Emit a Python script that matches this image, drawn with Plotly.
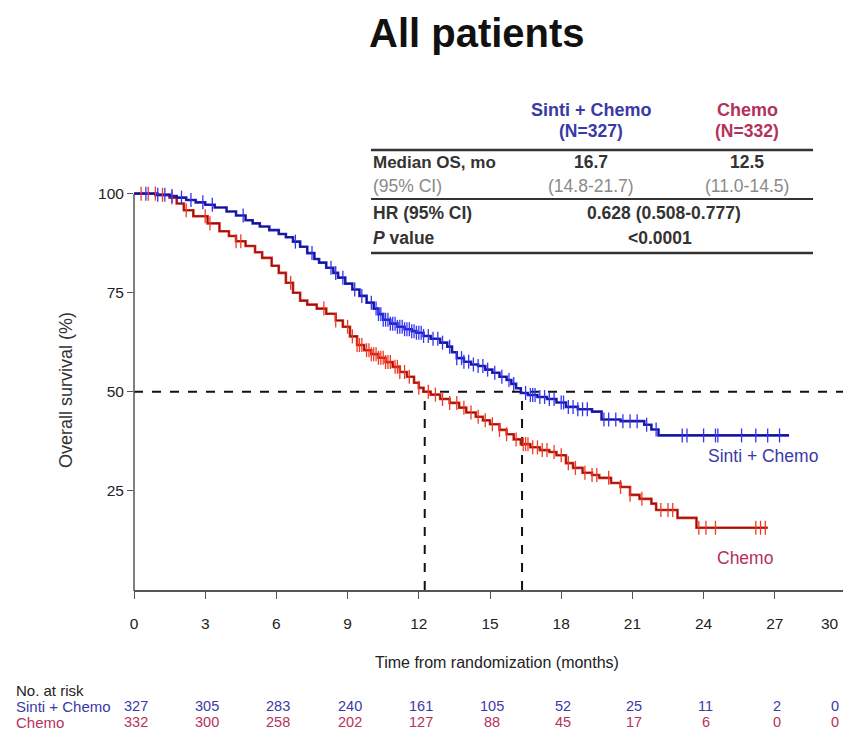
import numpy as np
import plotly.graph_objects as go

# ---------------- data ----------------
sinti_t = [0, 0.9, 1.5, 1.8, 2.2, 2.6, 3.0, 3.4, 3.9, 4.3, 4.7, 5.0, 5.3, 5.7, 6.1, 6.4, 6.7, 7.0,
           7.3, 7.6, 7.8, 8.1, 8.4, 8.6, 8.9, 9.2, 9.5, 9.8, 10.1, 10.3, 10.5, 10.8, 11.1, 11.4,
           11.7, 11.9, 12.2, 12.5, 12.9, 13.2, 13.4, 13.6, 13.9, 14.2, 14.5, 14.8, 15.1, 15.4,
           15.7, 15.9, 16.1, 16.3, 16.6, 17.0, 17.4, 17.8, 18.2, 18.7, 19.3, 19.7, 20.5, 21.5,
           21.8, 22.1, 27.6]
sinti_s = [100, 99.7, 99.4, 99.0, 98.4, 97.8, 97.2, 96.5, 95.5, 94.5, 93.3, 92.5, 91.7, 90.8, 89.8,
           89.0, 87.9, 86.6, 85.0, 83.5, 82.6, 81.3, 80.0, 78.8, 77.3, 75.8, 74.2, 72.5, 71.0, 69.6,
           68.2, 67.2, 66.4, 65.8, 65.3, 64.9, 64.1, 63.4, 62.4, 61.4, 60.0, 58.5, 57.6, 56.9, 56.5,
           55.6, 54.8, 53.8, 53.0, 52.0, 50.9, 49.7, 49.2, 48.7, 48.2, 47.3, 46.2, 45.6, 45.0, 43.0,
           42.6, 41.7, 40.5, 39.0, 39.0]
sinti_cens = [0.5, 1.0, 1.3, 1.6, 2.0, 2.4, 2.9, 3.3, 4.6, 6.8, 7.5, 8.3, 8.5, 8.8, 9.3, 9.6, 10.0,
              10.2, 10.3, 10.4, 10.5, 10.6, 10.7, 10.8, 10.9, 11.0, 11.1, 11.2, 11.3, 11.4, 11.5,
              11.6, 11.7, 11.8, 11.9, 12.0, 12.1, 12.2, 12.4, 12.6, 12.8, 13.0, 13.3, 13.6, 13.8,
              13.9, 14.1, 14.3, 14.5, 14.7, 14.9, 15.2, 15.5, 15.8, 16.0, 16.5, 16.7, 16.8, 16.9,
              17.1, 17.3, 17.5, 17.7, 18.0, 18.1, 18.3, 18.5, 18.7, 18.9, 19.1, 19.8, 20.0, 20.3,
              20.6, 20.9, 21.2, 21.6, 22.0, 23.1, 23.3, 24.0, 24.5, 24.6, 25.6, 26.2, 26.7, 27.2]

chemo_t = [0, 1.0, 1.5, 1.8, 2.1, 2.5, 3.1, 3.6, 4.0, 4.3, 4.7, 5.1, 5.4, 5.8, 6.1, 6.4, 6.7, 7.0,
           7.3, 7.7, 8.1, 8.5, 8.8, 9.1, 9.4, 9.7, 10.0, 10.3, 10.6, 10.9, 11.2, 11.5, 11.8, 12.0,
           12.2, 12.5, 12.9, 13.3, 13.7, 14.0, 14.4, 14.7, 15.0, 15.4, 15.7, 16.0, 16.3, 16.7, 17.1,
           17.5, 17.8, 18.2, 18.5, 18.9, 19.3, 19.6, 20.1, 20.5, 20.9, 21.3, 21.8, 22.0, 22.9, 23.7,
           26.7]
chemo_s = [100, 99.7, 99.0, 97.5, 95.8, 94.3, 92.5, 90.5, 89.3, 88.0, 86.8, 85.2, 83.8, 81.8, 80.0,
           77.5, 75.0, 73.0, 72.0, 71.0, 69.7, 68.0, 66.4, 64.0, 61.8, 60.5, 59.5, 58.6, 57.5, 56.3,
           55.0, 53.8, 52.3, 51.0, 50.0, 49.3, 48.2, 47.2, 46.0, 44.8, 43.7, 42.8, 41.8, 40.4, 39.3,
           38.0, 36.8, 36.0, 35.3, 34.8, 34.0, 32.0, 30.8, 29.6, 29.0, 28.3, 27.0, 26.0, 24.0, 23.0,
           21.8, 20.2, 18.2, 15.7, 15.7]
chemo_cens = [0.3, 0.6, 0.9, 1.2, 1.6, 2.2, 3.0, 3.2, 4.3, 4.5, 6.6, 8.0, 8.5, 9.0, 9.2, 9.4, 9.5,
              9.6, 9.8, 9.9, 10.0, 10.1, 10.2, 10.3, 10.4, 10.5, 10.6, 10.7, 10.8, 11.0, 11.1, 11.2,
              11.4, 11.6, 12.0, 12.4, 12.7, 13.0, 13.3, 13.6, 13.9, 14.2, 14.5, 14.8, 15.1, 15.4,
              15.7, 16.1, 16.4, 16.5, 16.6, 16.8, 17.0, 17.2, 17.4, 17.7, 18.0, 18.3, 18.6, 19.0,
              19.3, 19.5, 20.0, 20.5, 20.9, 21.4, 22.2, 22.5, 22.7, 23.8, 24.1, 24.5, 26.2, 26.4,
              26.6]

median_sinti_drawn = 16.35
median_chemo_drawn = 12.25

risk_times = [0, 3, 6, 9, 12, 15, 18, 21, 24, 27, 30]
risk_sinti = [327, 305, 283, 240, 161, 105, 52, 25, 11, 2, 0]
risk_chemo = [332, 300, 258, 202, 127, 88, 45, 17, 6, 0, 0]

x_ticks = [0, 3, 6, 9, 12, 15, 18, 21, 24, 27, 30]
y_ticks = [25, 50, 75, 100]

# ---------------- styling ----------------
OFF = 8                      # page body margin in the browser
W, H = 851 - OFF, 754 - OFF
L, R, T, B = 126, 5, 146, 164
PW, PH = W - L - R, H - T - B
ARIAL = "Liberation Sans, Arial, sans-serif"
BLUE_LINE = "#2424d4"
BLUE_CORE = "#141468"
BLUE_MARK = "#3434f4"
RED_LINE = "#e0281c"
RED_CORE = "#7a1410"
RED_MARK = "#f23a22"
BLUE_TXT = "#3a3aa6"
RED_TXT = "#b4325a"
EDGE = 841                   # right-most visible screen pixel used for edge texts


def pxx(x):
    """screen x pixel -> paper coordinate"""
    return (x - OFF - L) / PW


def pxy(y):
    """screen y pixel -> paper coordinate"""
    return (H - B - (y - OFF)) / PH


def step_value(times, surv, t):
    idx = np.searchsorted(np.asarray(times), t, side="right") - 1
    return np.asarray(surv)[idx]


fig = go.Figure()

for t, s, c_line, c_core in [(chemo_t, chemo_s, RED_LINE, RED_CORE),
                             (sinti_t, sinti_s, BLUE_LINE, BLUE_CORE)]:
    fig.add_trace(go.Scatter(x=t, y=s, mode="lines", line=dict(color=c_line, width=2.6, shape="hv"),
                             hoverinfo="skip", showlegend=False))
    fig.add_trace(go.Scatter(x=t, y=s, mode="lines", line=dict(color=c_core, width=1.0, shape="hv"),
                             hoverinfo="skip", showlegend=False))

for t, s, cens, c_mark in [(chemo_t, chemo_s, chemo_cens, RED_MARK),
                           (sinti_t, sinti_s, sinti_cens, BLUE_MARK)]:
    cy = [step_value(t, s, c) for c in cens]
    fig.add_trace(go.Scatter(x=cens, y=cy, mode="markers",
                             marker=dict(symbol="line-ns", size=10,
                                         line=dict(color=c_mark, width=1.3)),
                             hoverinfo="skip", showlegend=False))

# median reference lines
dash = dict(color="#111111", width=2, dash="dash")
fig.add_shape(type="line", xref="x", yref="y", x0=0, x1=30, y0=50, y1=50, line=dash, layer="below")
fig.add_shape(type="line", xref="x", yref="y", x0=median_chemo_drawn, x1=median_chemo_drawn,
              y0=0, y1=50, line=dash, layer="below")
fig.add_shape(type="line", xref="x", yref="y", x0=median_sinti_drawn, x1=median_sinti_drawn,
              y0=0, y1=50, line=dash, layer="below")

# y axis line (0..100 only)
fig.add_shape(type="line", xref="paper", yref="paper", x0=0, x1=0, y0=pxy(591), y1=pxy(194),
              line=dict(color="#555555", width=1.5))

annots = []


def ann(text, x, y, size=14, color="#222", font=ARIAL, xanchor="center", yanchor="middle", **kw):
    annots.append(dict(text=text, x=pxx(x), y=pxy(y), xref="paper", yref="paper",
                       showarrow=False, xanchor=xanchor, yanchor=yanchor,
                       font=dict(size=size, color=color, family=font), **kw))


# title
ann("<b>All patients</b>", 477, 33, size=40, color="#111")

# stats table
TS = 17.5
ann("<b>Sinti + Chemo</b>", 591, 110, size=18, color=BLUE_TXT)
ann("<b>(N=327)</b>", 591, 131, size=TS, color=BLUE_TXT)
ann("<b>Chemo</b>", 747, 110, size=18, color=RED_TXT)
ann("<b>(N=332)</b>", 747, 131, size=TS, color=RED_TXT)
ann("<b>Median OS, mo</b>", 371, 162, size=17, color="#333", xanchor="left")
ann("<b>16.7</b>", 591, 162, size=TS, color="#333")
ann("<b>12.5</b>", 747, 162, size=TS, color="#333")
ann("(95% CI)", 371, 186, size=TS, color="#8a8a8a", xanchor="left")
ann("(14.8-21.7)", 591, 186, size=TS, color="#8a8a8a")
ann("(11.0-14.5)", 747, 186, size=TS, color="#8a8a8a")
ann("<b>HR (95% CI)</b>", 371, 213, size=TS, color="#333", xanchor="left")
ann("<b>0.628 (0.508-0.777)</b>", 664, 213, size=TS, color="#333")
ann("<b><i>P</i> value</b>", 371, 238, size=TS, color="#333", xanchor="left")
ann("<b><0.0001</b>", 660, 238, size=TS, color="#333")

for yy, wd in [(150, 2.6), (199, 2.2), (253, 2.6)]:
    fig.add_shape(type="line", xref="paper", yref="paper", x0=pxx(371), x1=pxx(813),
                  y0=pxy(yy), y1=pxy(yy), line=dict(color="#333333", width=wd))

# curve labels
ann("Sinti + Chemo", 763, 456, size=17.5, color=BLUE_TXT)
ann("Chemo", 745, 558, size=17.5, color=RED_TXT)

# axis titles
ann("Time from randomization (months)", 497, 662, size=16, color="#222")
ann("Overall survival (%)", 66, 390, size=18, color="#333", textangle=-90)

# last x tick label, kept inside the visible page edge
last_tick = x_ticks[-1]
annots.append(dict(text=str(last_tick), x=pxx(EDGE), y=pxy(623), xref="paper", yref="paper",
                   showarrow=False, xanchor="right", yanchor="middle",
                   font=dict(size=15.5, color="#222", family=ARIAL)))

# risk table
RS = 15
ann("No. at risk", 14, 690, size=RS, color="#222", xanchor="left")
ann("Sinti + Chemo", 14, 706, size=RS, color=BLUE_TXT, xanchor="left")
ann("Chemo", 14, 722, size=RS, color=RED_TXT, xanchor="left")
for t, a, b in zip(risk_times, risk_sinti, risk_chemo):
    if t == risk_times[-1]:
        pos = dict(x=pxx(EDGE), xref="paper", xanchor="right", xshift=0)
    else:
        pos = dict(x=t, xref="x", xanchor="center", xshift=2)
    annots.append(dict(text=str(a), y=pxy(706), yref="paper", showarrow=False,
                       yanchor="middle", font=dict(size=14.5, color=BLUE_TXT, family=ARIAL), **pos))
    annots.append(dict(text=str(b), y=pxy(722), yref="paper", showarrow=False,
                       yanchor="middle", font=dict(size=14.5, color=RED_TXT, family=ARIAL), **pos))

fig.update_layout(
    width=W, height=H,
    margin=dict(l=L, r=R, t=T, b=B, autoexpand=False),
    paper_bgcolor="white", plot_bgcolor="white",
    annotations=annots,
    xaxis=dict(range=[0, 30], tickvals=x_ticks,
               ticktext=[str(v) for v in x_ticks[:-1]] + [""],
               automargin=False,
               showgrid=False, zeroline=False, showline=True, linecolor="#555555", linewidth=1.5,
               ticks="outside", ticklen=7, tickwidth=1.2, tickcolor="#555555",
               ticklabelstandoff=12,
               tickfont=dict(size=15.5, color="#222", family=ARIAL)),
    yaxis=dict(range=[0, 110], tickvals=y_ticks, ticktext=[str(v) for v in y_ticks],
               automargin=False,
               showgrid=False, zeroline=False, showline=False,
               ticks="outside", ticklen=6, tickwidth=1.2, tickcolor="#555555",
               tickfont=dict(size=15.5, color="#222", family=ARIAL)),
)

fig.write_html("out.html")
